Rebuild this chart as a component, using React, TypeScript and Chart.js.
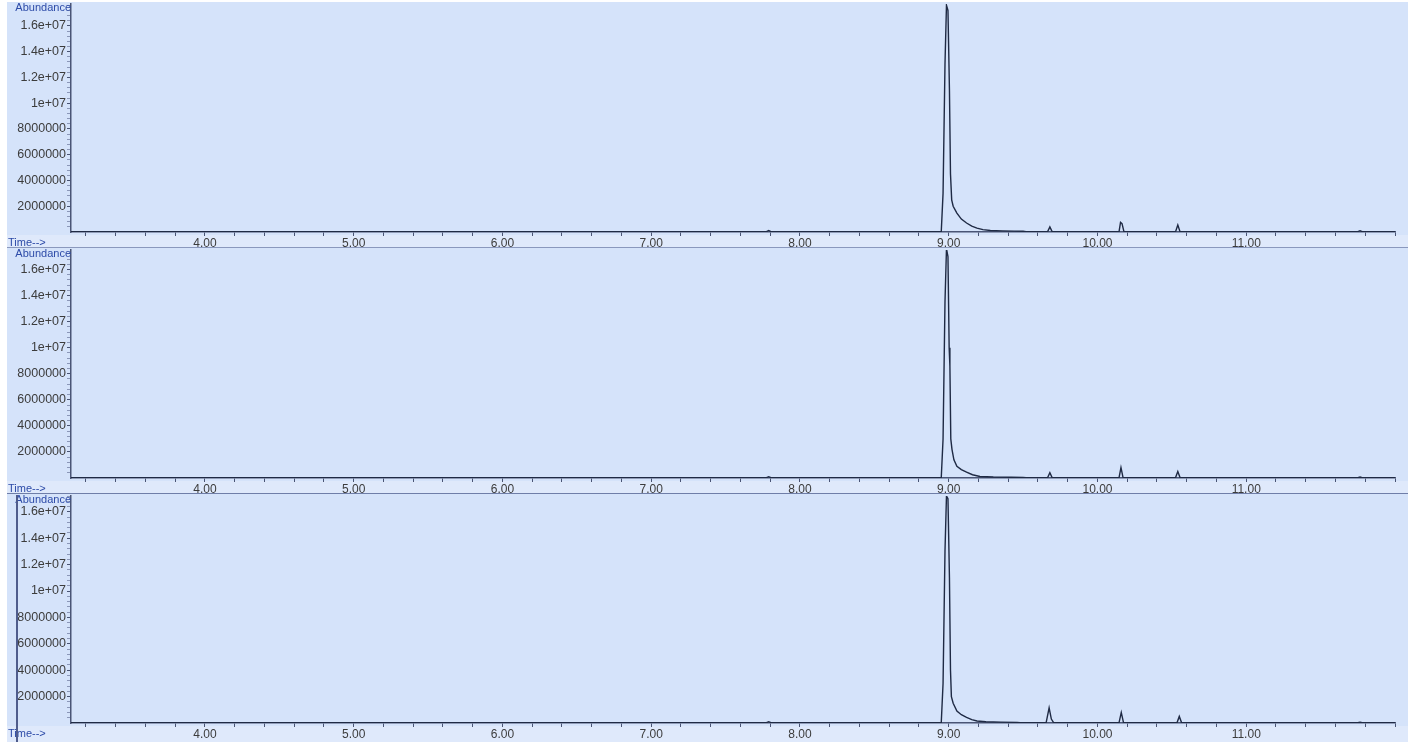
import React, { useEffect, useRef } from "react";
import { Chart, registerables } from "chart.js";

Chart.register(...registerables);

// ---------- axis definitions ----------
const timeMin = 3.1;
const timeMax = 12.0;
const timeMajorTicks = [4, 5, 6, 7, 8, 9, 10, 11];
const timeMinorStep = 0.2;
const abundanceTicks = [2e6, 4e6, 6e6, 8e6, 1e7, 1.2e7, 1.4e7, 1.6e7];
const abundanceLabels = ["2000000", "4000000", "6000000", "8000000", "1e+07", "1.2e+07", "1.4e+07", "1.6e+07"];
const abundanceMinorStep = 4e5;

// ---------- panel 1 ----------
const panel1Time = [
  3.1, 7.775, 7.79, 7.805, 8.95, 8.962, 8.975, 8.985, 8.995, 9.005, 9.012, 9.02, 9.03, 9.055, 9.085,
  9.12, 9.155, 9.19, 9.23, 9.28, 9.36, 9.44, 9.5, 9.52, 9.665, 9.68, 9.695, 10.145, 10.155, 10.165,
  10.178, 10.525, 10.54, 10.555, 11.75, 11.765, 11.78, 12.0,
];
const panel1Abund = [
  3e4, 3e4, 1.2e5, 3e4, 3e4, 3.0e6, 1.3e7, 1.76e7, 1.72e7, 1.1e7, 4.5e6, 2.5e6, 2.0e6, 1.47e6, 1.0e6,
  7.0e5, 4.5e5, 3.0e5, 1.8e5, 1.2e5, 9e4, 7e4, 6e4, 3e4, 3e4, 4.0e5, 3e4, 3e4, 7.5e5, 6.5e5,
  3e4, 3e4, 5.5e5, 3e4, 3e4, 1.0e5, 3e4, 3e4,
];

// ---------- panel 2 ----------
const panel2Time = [
  3.1, 7.775, 7.79, 7.805, 8.95, 8.962, 8.975, 8.985, 8.995, 9.003, 9.008, 9.014, 9.022, 9.035, 9.055,
  9.085, 9.12, 9.16, 9.21, 9.3, 9.42, 9.5, 9.52, 9.665, 9.68, 9.695, 10.145, 10.158, 10.172, 10.525,
  10.54, 10.555, 11.75, 11.765, 11.78, 12.0,
];
const panel2Abund = [
  3e4, 3e4, 1.0e5, 3e4, 3e4, 3.0e6, 1.35e7, 1.76e7, 1.7e7, 1.0e7, 8.6e6, 3.0e6, 2.2e6, 1.4e6, 9.0e5,
  6.5e5, 4.5e5, 2.5e5, 1.2e5, 8e4, 6e4, 4e4, 3e4, 3e4, 4.0e5, 3e4, 3e4, 8.0e5, 3e4, 3e4,
  5.0e5, 3e4, 3e4, 8e4, 3e4, 3e4,
];

// ---------- panel 3 ----------
const panel3Time = [
  3.1, 7.775, 7.79, 7.805, 8.95, 8.962, 8.975, 8.985, 8.995, 9.005, 9.012, 9.018, 9.03, 9.055, 9.085,
  9.12, 9.155, 9.19, 9.25, 9.35, 9.46, 9.48, 9.655, 9.675, 9.69, 9.705, 10.145, 10.16, 10.175, 10.535,
  10.55, 10.565, 11.75, 11.765, 11.78, 12.0,
];
const panel3Abund = [
  3e4, 3e4, 1.0e5, 3e4, 3e4, 3.0e6, 1.3e7, 1.72e7, 1.7e7, 1.1e7, 4.0e6, 2.0e6, 1.5e6, 9.0e5, 6.3e5,
  4.3e5, 2.6e5, 1.5e5, 9e4, 7e4, 5e4, 3e4, 3e4, 1.15e6, 3.0e5, 3e4, 3e4, 8.0e5, 3e4, 3e4,
  5.0e5, 3e4, 3e4, 6e4, 3e4, 3e4,
];

// ---------- styles ----------
const PLOT_BG = "#d5e3fa";
const STRIP_BG = "#dfe9fb";
const TRACE = "#1f2a44";
const AXIS = "#4a5575";
const TICK_TEXT = "#3c3c3c";
const LABEL_BLUE = "#2d4ba8";
const FONT = "Liberation Sans";

type PanelProps = {
  times: number[];
  values: number[];
  yMax: number;
  top: number;
  height: number;
  xAxisHeight: number;
};

function ChromPanel({ times, values, yMax, top, height, xAxisHeight }: PanelProps) {
  const ref = useRef<HTMLCanvasElement | null>(null);

  useEffect(() => {
    if (!ref.current) return;

    const decor = {
      id: "decor",
      beforeDraw(chart: any) {
        const { ctx, chartArea, width, height: h } = chart;
        ctx.save();
        ctx.fillStyle = PLOT_BG;
        ctx.fillRect(0, 0, width, h);
        ctx.fillStyle = STRIP_BG;
        ctx.fillRect(0, chartArea.bottom + 3, width, h - chartArea.bottom - 3);
        ctx.restore();
      },
      afterDraw(chart: any) {
        const { ctx, chartArea } = chart;
        ctx.save();
        ctx.font = `11px "${FONT}"`;
        ctx.fillStyle = LABEL_BLUE;
        ctx.textBaseline = "middle";
        ctx.textAlign = "right";
        ctx.fillText("Abundance", chartArea.left, chartArea.top + 4);
        ctx.textAlign = "left";
        ctx.fillText("Time-->", 1, chartArea.bottom + 11);
        ctx.restore();
      },
    };

    const chart = new Chart(ref.current, {
      type: "line",
      data: {
        datasets: [
          {
            data: times.map((t, i) => ({ x: t, y: values[i] })),
            borderColor: TRACE,
            borderWidth: 1.4,
            pointRadius: 0,
            tension: 0,
            fill: false,
          },
        ],
      },
      options: {
        animation: false,
        responsive: true,
        maintainAspectRatio: false,
        events: [],
        layout: { autoPadding: false, padding: { top: 2, right: 13, left: 0, bottom: 0 } },
        plugins: {
          legend: { display: false },
          tooltip: { enabled: false },
          title: { display: false },
        },
        scales: {
          x: {
            type: "linear",
            min: timeMin,
            max: timeMax,
            afterBuildTicks: (scale: any) => {
              const ticks: any[] = [];
              for (let v = 3.2; v <= timeMax + 1e-9; v += timeMinorStep) {
                ticks.push({ value: Math.round(v * 10) / 10 });
              }
              scale.ticks = ticks;
            },
            afterFit: (scale: any) => {
              scale.height = xAxisHeight;
              scale.paddingLeft = 0;
              scale.paddingRight = 0;
              scale.paddingTop = 0;
              scale.paddingBottom = 0;
            },
            grid: {
              drawOnChartArea: false,
              drawTicks: true,
              tickLength: 4,
              tickColor: AXIS,
              tickWidth: 1,
            },
            border: { display: true, color: AXIS, width: 1.5 },
            ticks: {
              autoSkip: false,
              maxRotation: 0,
              padding: 0,
              color: TICK_TEXT,
              font: { family: FONT, size: 12 },
              callback: (value: any) => {
                const v = Number(value);
                return timeMajorTicks.some((m) => Math.abs(m - v) < 1e-6) ? v.toFixed(2) : "";
              },
            },
          },
          y: {
            min: 0,
            max: yMax,
            afterBuildTicks: (scale: any) => {
              const ticks: any[] = [];
              for (let v = abundanceMinorStep; v <= yMax; v += abundanceMinorStep) {
                ticks.push({ value: Math.round(v) });
              }
              scale.ticks = ticks;
            },
            afterFit: (scale: any) => {
              scale.width = 64;
              scale.paddingTop = 0;
              scale.paddingBottom = 0;
              scale.paddingLeft = 0;
              scale.paddingRight = 0;
            },
            grid: {
              drawOnChartArea: false,
              drawTicks: true,
              tickLength: 4,
              tickWidth: 1,
              tickColor: (ctx: any) => {
                const v = ctx.tick ? ctx.tick.value : 0;
                return abundanceTicks.some((m) => Math.abs(m - v) < 1) ? AXIS : "#8b97b8";
              },
            },
            border: { display: true, color: AXIS, width: 1.5 },
            ticks: {
              autoSkip: false,
              padding: 1,
              color: TICK_TEXT,
              font: { family: FONT, size: 12.5 },
              callback: (value: any) => {
                const v = Number(value);
                const idx = abundanceTicks.findIndex((m) => Math.abs(m - v) < 1);
                return idx >= 0 ? abundanceLabels[idx] : "";
              },
            },
          },
        },
      },
      plugins: [decor],
    } as any);

    return () => chart.destroy();
  }, [times, values, yMax, xAxisHeight]);

  return (
    <div style={{ position: "absolute", left: 7, top, width: 1401, height }}>
      <canvas ref={ref} />
    </div>
  );
}

export default function App() {
  return (
    <div
      style={{
        position: "fixed",
        left: 0,
        top: 0,
        width: 1415,
        height: 742,
        background: "#ffffff",
        overflow: "hidden",
      }}
    >
      <ChromPanel times={panel1Time} values={panel1Abund} yMax={1.77e7} top={2} height={245} xAxisHeight={15} />
      <ChromPanel times={panel2Time} values={panel2Abund} yMax={1.75e7} top={248} height={245} xAxisHeight={15} />
      <ChromPanel times={panel3Time} values={panel3Abund} yMax={1.72e7} top={494} height={248} xAxisHeight={19} />
      <div style={{ position: "absolute", left: 7, top: 247, width: 1401, height: 1, background: "#8a98bd" }} />
      <div style={{ position: "absolute", left: 7, top: 493, width: 1401, height: 1, background: "#6f7ea8" }} />
      <div style={{ position: "absolute", left: 16, top: 495, width: 2, height: 247, background: "#4f5c8c" }} />
    </div>
  );
}
